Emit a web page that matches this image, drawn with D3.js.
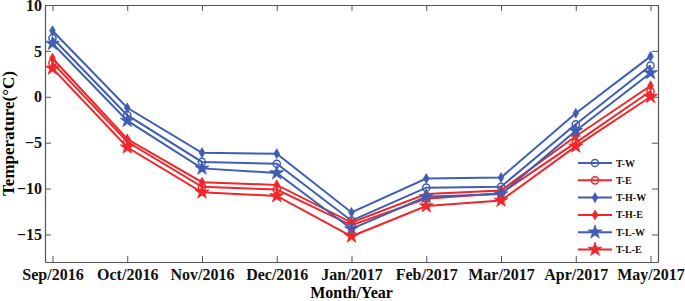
<!DOCTYPE html>
<html>
<head>
<meta charset="utf-8">
<script src="https://cdn.jsdelivr.net/npm/d3@7"></script>
<style>
  body { margin: 0; background: #fff; }
  text { font-family: "Liberation Serif", "Times New Roman", serif; font-weight: bold; }
</style>
</head>
<body>
<div id="container"></div>
<script>
/* CONSTANTS AND GLOBALS */
const width = 685,
  height = 301,
  margin = { top: 5, right: 27, bottom: 39, left: 45 };

const blue = "#3f5db3",
  red = "#f0262a";

/* DATA */
const months = ["Sep/2016", "Oct/2016", "Nov/2016", "Dec/2016", "Jan/2017",
  "Feb/2017", "Mar/2017", "Apr/2017", "May/2017"];
const yTicks = [-15, -10, -5, 0, 5, 10];

const tW  = [6.4, -2.0, -7.1, -7.3, -13.5, -9.9, -9.8, -3.0, 3.4];
const tE  = [3.7, -4.9, -9.8, -10.1, -14.0, -11.1, -10.5, -5.0, 0.6];
const tHW = [7.2, -1.2, -6.1, -6.2, -12.6, -8.9, -8.8, -1.8, 4.4];
const tHE = [4.2, -4.6, -9.3, -9.6, -13.7, -10.6, -10.2, -4.3, 1.2];
const tLW = [5.8, -2.6, -7.8, -8.3, -14.4, -10.9, -10.6, -3.7, 2.6];
const tLE = [3.1, -5.5, -10.4, -10.8, -15.2, -11.9, -11.3, -5.4, 0.0];

const series = [
  { name: "T-W", values: tW, color: blue, marker: "circle" },
  { name: "T-E", values: tE, color: red, marker: "circle" },
  { name: "T-H-W", values: tHW, color: blue, marker: "diamond" },
  { name: "T-H-E", values: tHE, color: red, marker: "diamond" },
  { name: "T-L-W", values: tLW, color: blue, marker: "star" },
  { name: "T-L-E", values: tLE, color: red, marker: "star" }
];

const svg = d3.select("#container")
  .append("svg")
  .attr("width", width)
  .attr("height", height);

/* SCALES */
const xScale = d3.scalePoint()
  .domain(months)
  .range([margin.left, width - margin.right])
  .padding(0.1);

const yScale = d3.scaleLinear()
  .domain([-18, 10])
  .range([height - margin.bottom, margin.top]);

/* AXES (matlab style box, ticks inside) */
const axisColor = "#555";
const tick = 6;

const styleAxis = g => {
  g.select(".domain").attr("stroke", axisColor).attr("stroke-width", 1.2);
  g.selectAll(".tick line").attr("stroke", axisColor);
  g.selectAll(".tick text").attr("fill", "#111").style("font-size", "16px")
    .style("font-family", "Liberation Serif").style("font-weight", "bold");
};

svg.append("g")
  .attr("transform", `translate(0,${height - margin.bottom})`)
  .call(d3.axisBottom(xScale).tickSize(-tick).tickSizeOuter(0).tickPadding(7))
  .call(styleAxis);

svg.append("g")
  .attr("transform", `translate(0,${margin.top})`)
  .call(d3.axisTop(xScale).tickSize(-tick).tickSizeOuter(0).tickFormat(""))
  .call(styleAxis);

svg.append("g")
  .attr("transform", `translate(${margin.left},0)`)
  .call(d3.axisLeft(yScale).tickValues(yTicks).tickSize(-tick).tickSizeOuter(0).tickPadding(3))
  .call(styleAxis);

svg.append("g")
  .attr("transform", `translate(${width - margin.right},0)`)
  .call(d3.axisRight(yScale).tickValues(yTicks).tickSize(-tick).tickSizeOuter(0).tickFormat(""))
  .call(styleAxis);

// axis titles
svg.append("text")
  .attr("x", (margin.left + width - margin.right) / 2)
  .attr("y", height - 3)
  .attr("text-anchor", "middle")
  .style("font-size", "16px")
  .text("Month/Year");

svg.append("text")
  .attr("transform", "rotate(-90)")
  .attr("x", -(margin.top + height - margin.bottom) / 2)
  .attr("y", 14)
  .attr("text-anchor", "middle")
  .style("font-size", "17px")
  .text("Temperature(°C)");

/* LINES */
const line = d3.line()
  .x((d, i) => xScale(months[i]))
  .y(d => yScale(d));

const symbolFor = {
  circle: null,
  diamond: d3.symbol(d3.symbolDiamond, 28),
  star: d3.symbol(d3.symbolStar, 60)
};

function drawMarker(g, s, x, y) {
  if (s.marker === "circle") {
    g.append("circle")
      .attr("cx", x).attr("cy", y).attr("r", 3.6)
      .attr("fill", "none")
      .attr("stroke", s.color)
      .attr("stroke-width", 1.5);
  } else {
    g.append("path")
      .attr("d", symbolFor[s.marker]())
      .attr("transform", `translate(${x},${y})`)
      .attr("fill", s.color)
      .attr("stroke", s.color)
      .attr("stroke-width", 0.8);
  }
}

series.forEach(s => {
  const g = svg.append("g");
  g.append("path")
    .datum(s.values)
    .attr("d", line)
    .attr("fill", "none")
    .attr("stroke", s.color)
    .attr("stroke-width", 2);
  s.values.forEach((v, i) => drawMarker(g, s, xScale(months[i]), yScale(v)));
});

/* LEGEND */
const legend = svg.append("g");
series.forEach((s, i) => {
  const y = 163 + i * 17.3;
  legend.append("line")
    .attr("x1", 578).attr("x2", 612)
    .attr("y1", y).attr("y2", y)
    .attr("stroke", s.color)
    .attr("stroke-width", 2);
  drawMarker(legend, s, 595, y);
  legend.append("text")
    .attr("x", 616)
    .attr("y", y)
    .attr("dy", "0.35em")
    .style("font-size", "10px")
    .attr("fill", "#111")
    .text(s.name);
});
</script>
</body>
</html>
